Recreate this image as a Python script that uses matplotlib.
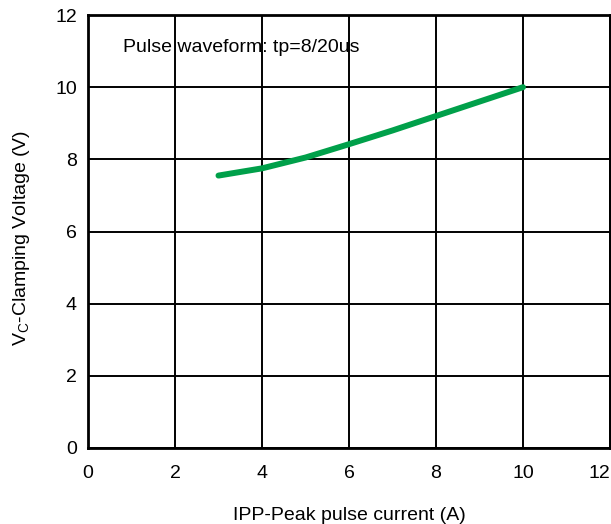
import matplotlib
matplotlib.use("Agg")
import matplotlib.pyplot as plt

plt.rcParams['font.family'] = ['Liberation Sans', 'DejaVu Sans']

# peak pulse current (A) vs clamping voltage (V)
ipp = [3, 4, 5, 6, 7, 8, 9, 10]
vc = [7.55, 7.75, 8.05, 8.42, 8.8, 9.2, 9.6, 10.0]
ticks = [0, 2, 4, 6, 8, 10, 12]

fig = plt.figure(figsize=(6.11, 5.24), dpi=100)
ax = fig.add_axes([88 / 611, 1 - 448 / 524, 522 / 611, 433 / 524])

ax.plot(ipp, vc, color='#00a04a', lw=4.3, solid_capstyle='round', zorder=3)

ax.set_xlim(0, 12)
ax.set_ylim(0, 12)
ax.set_xticks(ticks)
ax.set_yticks(ticks)
ax.grid(True, color='black', lw=1.4)
for s in ax.spines.values():
    s.set_linewidth(2)
    s.set_color('black')
ax.tick_params(length=0, labelsize=14)
ax.tick_params(axis='x', pad=12)
ax.tick_params(axis='y', pad=8)
ax.get_xticklabels()[-1].set_horizontalalignment('right')

ax.text(0.8, 11.1, 'Pulse waveform: tp=8/20us', fontsize=14, va='center', ha='left', zorder=4)
ax.set_xlabel('IPP-Peak pulse current (A)', fontsize=14)
ax.set_ylabel(r'V$_\mathregular{C}$-Clamping Voltage (V)', fontsize=14, va='center')
ax.xaxis.set_label_coords(0.5, -(515 - 448) / 433)
ax.xaxis.label.set_va('center')
ax.yaxis.set_label_coords(-(88 - 22) / 522, (448 - 238) / 433)

fig.savefig('out.png', dpi=100)
